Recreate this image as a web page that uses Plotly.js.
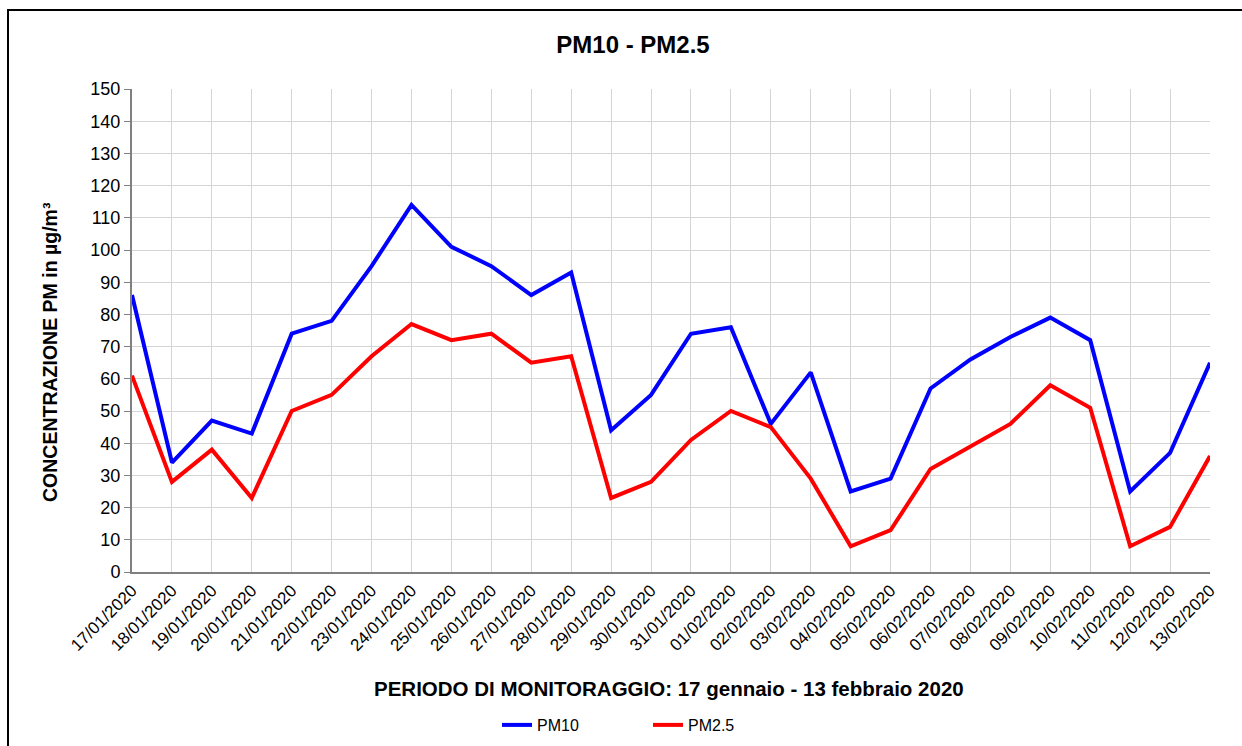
<!DOCTYPE html>
<html>
<head>
<meta charset="utf-8">
<script src="https://cdn.plot.ly/plotly-3.0.1.min.js"></script>
<style>
html,body{margin:0;padding:0;background:#fff;}
#chart{width:1242px;height:746px;}
</style>
</head>
<body>
<div id="chart"></div>
<script>
const dates = ["17/01/2020","18/01/2020","19/01/2020","20/01/2020","21/01/2020","22/01/2020","23/01/2020","24/01/2020","25/01/2020","26/01/2020","27/01/2020","28/01/2020","29/01/2020","30/01/2020","31/01/2020","01/02/2020","02/02/2020","03/02/2020","04/02/2020","05/02/2020","06/02/2020","07/02/2020","08/02/2020","09/02/2020","10/02/2020","11/02/2020","12/02/2020","13/02/2020"];
const pm10 = [86,34,47,43,74,78,95,114,101,95,86,93,44,55,74,76,46,62,25,29,57,66,73,79,72,25,37,65];
const pm25 = [61,28,38,23,50,55,67,77,72,74,65,67,23,28,41,50,45,29,8,13,32,39,46,58,51,8,14,36];
const yTicks = [0,10,20,30,40,50,60,70,80,90,100,110,120,130,140,150];
const xTitle = "PERIODO DI MONITORAGGIO: 17 gennaio - 13 febbraio 2020";
const yTitle = "CONCENTRAZIONE PM in µg/m³";

const FONT = "Liberation Sans, Arial, sans-serif";
const L = 132, R = 32, T = 89, B = 174, W = 1242, H = 746;
const pw = W - L - R, ph = H - T - B;

const traces = [
  {x: dates, y: pm10, name: "PM10", type: "scatter", mode: "lines",
   line: {color: "#0000ff", width: 4}},
  {x: dates, y: pm25, name: "PM2.5", type: "scatter", mode: "lines",
   line: {color: "#ff0000", width: 4}}
];

const layout = {
  width: W, height: H,
  margin: {l: L, r: R, t: T, b: B, pad: 0},
  paper_bgcolor: "#ffffff", plot_bgcolor: "#ffffff",
  font: {family: FONT, color: "#000000"},
  title: {text: "<b>PM10 - PM2.5</b>", font: {family: FONT, size: 24, color: "#000"},
          x: 633 / W, xanchor: "center", y: 1 - 45 / H, yanchor: "middle", xref: "container", yref: "container"},
  xaxis: {
    type: "category", categoryorder: "array", categoryarray: dates,
    range: [0, dates.length - 1],
    tickangle: -45, tickfont: {family: FONT, size: 17, color: "#000"},
    showgrid: true, gridcolor: "#d4d4d4", gridwidth: 1,
    showline: true, linecolor: "#808080", linewidth: 2,
    ticks: "", zeroline: false
  },
  yaxis: {
    range: [0, 150], tickvals: yTicks, ticktext: yTicks.map(String),
    tickfont: {family: FONT, size: 18, color: "#000"},
    showgrid: true, gridcolor: "#d4d4d4", gridwidth: 1,
    showline: true, linecolor: "#808080", linewidth: 2,
    ticks: "outside", ticklen: 6, tickcolor: "#808080", tickwidth: 1,
    zeroline: false
  },
  annotations: [
    {text: "<b>" + xTitle + "</b>", xref: "paper", yref: "paper",
     x: (669 - L) / pw, y: (H - B - 688) / ph, xanchor: "center", yanchor: "middle",
     showarrow: false, font: {family: FONT, size: 20.5, color: "#000"}},
    {text: "<b>" + yTitle + "</b>", xref: "paper", yref: "paper", textangle: -90,
     x: (50 - L) / pw, y: (H - B - 352) / ph, xanchor: "center", yanchor: "middle",
     showarrow: false, font: {family: FONT, size: 19.5, color: "#000"}}
  ],
  showlegend: true,
  legend: {orientation: "h", xref: "container", yref: "container",
           x: 497 / W, xanchor: "left", y: 1 - 725 / H, yanchor: "middle",
           font: {family: FONT, size: 16, color: "#000"},
           entrywidth: 106, entrywidthmode: "pixels",
           bgcolor: "rgba(0,0,0,0)", borderwidth: 0},
  shapes: [
    {type: "rect", xref: "paper", yref: "paper",
     x0: (8 - L) / pw, x1: 1.2, y0: -0.6, y1: (H - B - 10) / ph,
     line: {color: "#000000", width: 2}, fillcolor: "rgba(0,0,0,0)", layer: "above"}
  ]
};

Plotly.newPlot("chart", traces, layout, {displayModeBar: false, staticPlot: true});
</script>
</body>
</html>
